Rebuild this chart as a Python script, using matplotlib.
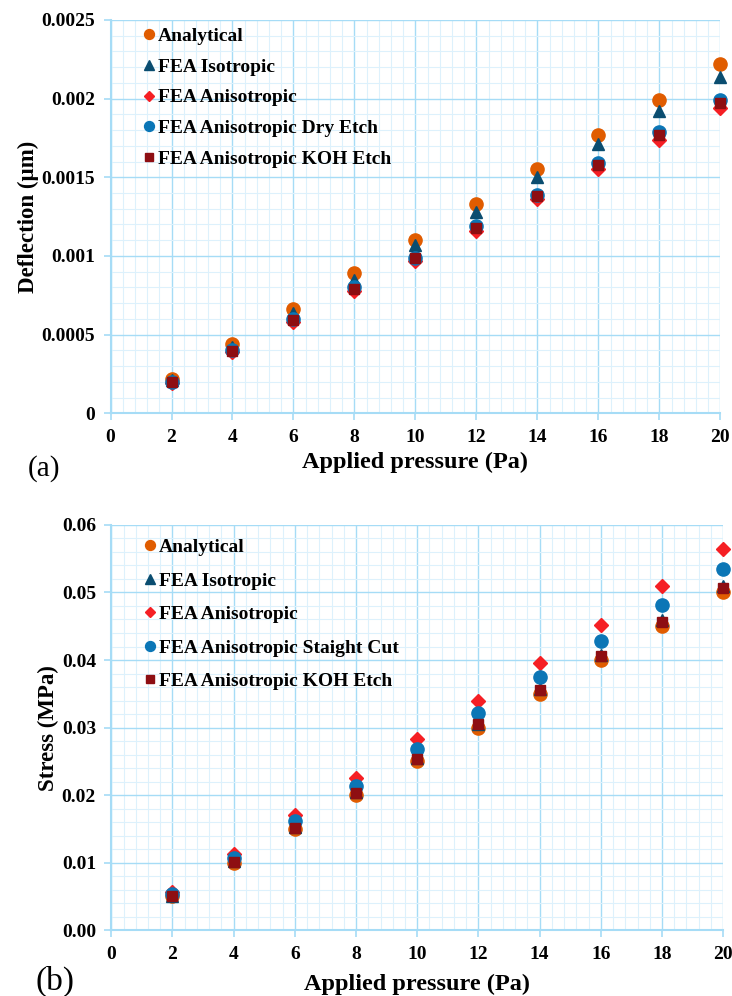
import matplotlib.pyplot as plt
from matplotlib.ticker import MultipleLocator

plt.rcParams['font.family'] = ['Liberation Serif', 'DejaVu Serif']

pressure = [2, 4, 6, 8, 10, 12, 14, 16, 18, 20]

# deflection (um), panel (a)
defl_analytical = [0.00022, 0.00044, 0.00066, 0.00089, 0.0011, 0.00133, 0.00155, 0.00177, 0.00199, 0.00222]
defl_iso = [0.00021, 0.00042, 0.00064, 0.00085, 0.00107, 0.00128, 0.0015, 0.00171, 0.00192, 0.00214]
defl_aniso = [0.000195, 0.00039, 0.00058, 0.00078, 0.00097, 0.00116, 0.00136, 0.00155, 0.00174, 0.00194]
defl_dry = [0.0002, 0.0004, 0.0006, 0.0008, 0.00099, 0.00119, 0.00139, 0.00159, 0.00179, 0.00199]
defl_koh = [0.000198, 0.000395, 0.000593, 0.00079, 0.00099, 0.00118, 0.00138, 0.00158, 0.00177, 0.00197]

# stress (MPa), panel (b)
str_analytical = [0.005, 0.01, 0.015, 0.02, 0.025, 0.03, 0.035, 0.04, 0.045, 0.05]
str_iso = [0.0051, 0.0102, 0.0153, 0.0204, 0.0255, 0.0306, 0.0357, 0.0408, 0.0459, 0.051]
str_aniso = [0.0057, 0.0113, 0.017, 0.0226, 0.0283, 0.0339, 0.0396, 0.0452, 0.0509, 0.0565]
str_straight = [0.0054, 0.0107, 0.0161, 0.0214, 0.0268, 0.0321, 0.0375, 0.0428, 0.0482, 0.0535]
str_koh = [0.0051, 0.0101, 0.0152, 0.0203, 0.0254, 0.0305, 0.0356, 0.0406, 0.0457, 0.0507]

labels_a = ["Analytical", "FEA Isotropic", "FEA Anisotropic",
            "FEA Anisotropic Dry Etch", "FEA Anisotropic KOH Etch"]
labels_b = ["Analytical", "FEA Isotropic", "FEA Anisotropic",
            "FEA Anisotropic Staight Cut", "FEA Anisotropic KOH Etch"]

colors = ["#E05C00", "#0A4D70", "#F51F24", "#0B76B6", "#8E0E12"]
markers = ["o", "^", "D", "o", "s"]
sizes = [9.5, 9, 7, 9.5, 7.5]

major_c = "#A6DCF6"
minor_c = "#DDF1FC"


def style_axes(ax, ymax, ystep, yminor, yfmt, ylabel, tag, tag_xy, tag_size,
               xpad, leg_anchor, leg_space):
    ax.set_xlim(0, 20)
    ax.set_ylim(0, ymax)
    ax.xaxis.set_minor_locator(MultipleLocator(0.4))
    ax.yaxis.set_minor_locator(MultipleLocator(yminor))
    ax.grid(which="major", color=major_c, linewidth=1.0)
    ax.grid(which="minor", color=minor_c, linewidth=0.8)
    ax.set_axisbelow(True)
    for s in ["top", "right"]:
        ax.spines[s].set_visible(False)
    for s in ["left", "bottom"]:
        ax.spines[s].set_color(major_c)
        ax.spines[s].set_linewidth(1.5)
    ax.tick_params(which="major", color=major_c, length=5, width=1.2,
                   labelsize=14, pad=6)
    ax.tick_params(which="minor", length=0)
    ax.set_xticks(range(0, 21, 2))
    ax.set_xticklabels([str(v) for v in range(0, 21, 2)], fontweight="bold")
    yt = [i * ystep for i in range(int(round(ymax / ystep)) + 1)]
    ax.set_yticks(yt)
    ax.set_yticklabels([yfmt(v) for v in yt], fontweight="bold")
    ax.set_xlabel("Applied pressure (Pa)", fontsize=17.5, fontweight="bold", labelpad=xpad)
    ax.set_ylabel(ylabel, fontsize=16.5, fontweight="bold", labelpad=2)
    ax.text(tag_xy[0], tag_xy[1], tag, transform=ax.transAxes, fontsize=tag_size,
            va="center")
    ax.legend(loc="upper left", bbox_to_anchor=leg_anchor, frameon=False,
              prop={"weight": "bold", "size": 14}, labelspacing=leg_space,
              handletextpad=0.0, handlelength=0.9, markerscale=0.75)


def fmt_a(v):
    if v == 0:
        return "0"
    return ("%.4f" % v).rstrip("0")


def fmt_b(v):
    return "%.2f" % v


fig = plt.figure(figsize=(7.32, 9.96), dpi=100)

ax1 = fig.add_axes([0.151, 0.585, 0.833, 0.395])
for y, lab, c, m, ms in zip([defl_analytical, defl_iso, defl_aniso, defl_dry, defl_koh],
                            labels_a, colors, markers, sizes):
    ax1.plot(pressure, y, linestyle="none", marker=m, color=c, markersize=ms,
             label=lab, clip_on=False)
style_axes(ax1, 0.0025, 0.0005, 0.0001, fmt_a, "Deflection (\u00b5m)", "(a)",
           (-0.136, -0.14), 21, 4.5, (0.02, 1.025), 0.67)

ax2 = fig.add_axes([0.152, 0.066, 0.836, 0.407])
for y, lab, c, m, ms in zip([str_analytical, str_iso, str_aniso, str_straight, str_koh],
                            labels_b, colors, markers, sizes):
    ax2.plot(pressure, y, linestyle="none", marker=m, color=c, markersize=ms,
             label=lab, clip_on=False)
style_axes(ax2, 0.06, 0.01, 0.002, fmt_b, "Stress (MPa)", "(b)",
           (-0.123, -0.125), 24, 8, (0.02, 1.01), 0.82)

fig.savefig("out.png", dpi=100)
